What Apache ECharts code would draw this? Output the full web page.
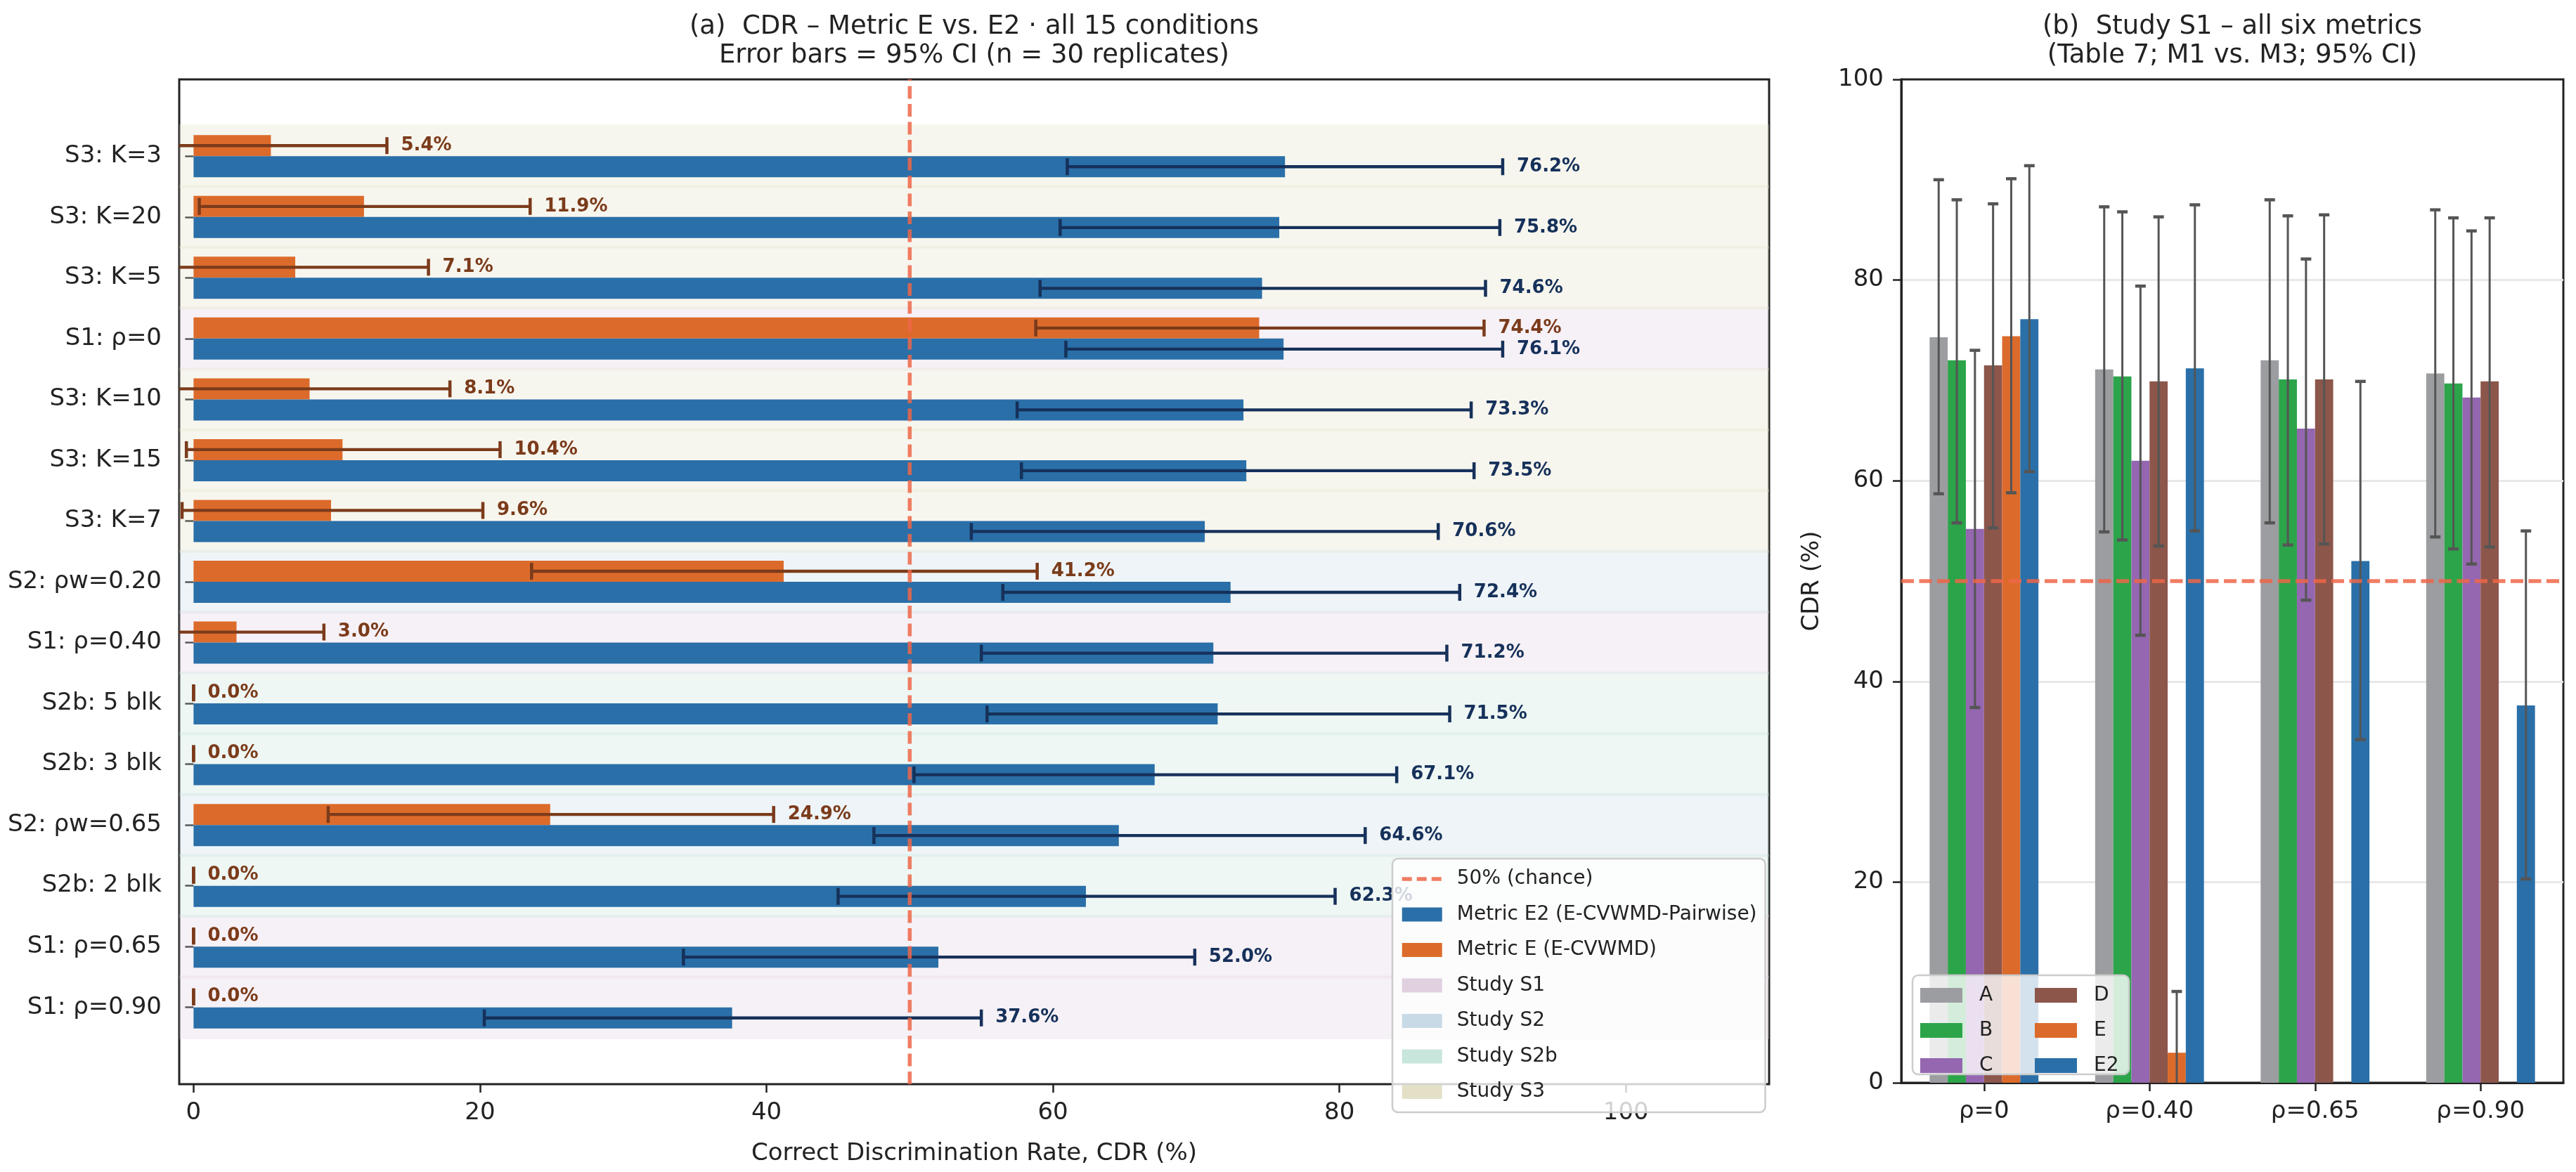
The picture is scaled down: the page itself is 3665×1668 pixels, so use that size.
<!DOCTYPE html>
<html>
<head>
<meta charset="utf-8">
<script src="https://cdn.jsdelivr.net/npm/echarts@6/dist/echarts.min.js"></script>
<style>
  html, body { margin: 0; padding: 0; background: #fff; }
  #chart { width: 3665px; height: 1668px; }
</style>
</head>
<body>
<div id="chart"></div>
<script>
// ---- panel (a) data: top to bottom ----
const conditions = ['S3: K=3', 'S3: K=20', 'S3: K=5', 'S1: ρ=0', 'S3: K=10', 'S3: K=15', 'S3: K=7',
  'S2: ρw=0.20', 'S1: ρ=0.40', 'S2b: 5 blk', 'S2b: 3 blk', 'S2: ρw=0.65', 'S2b: 2 blk', 'S1: ρ=0.65', 'S1: ρ=0.90'];
const conditionStudy = ['S3', 'S3', 'S3', 'S1', 'S3', 'S3', 'S3', 'S2', 'S1', 'S2b', 'S2b', 'S2', 'S2b', 'S1', 'S1'];
const metricE = [5.4, 11.9, 7.1, 74.4, 8.1, 10.4, 9.6, 41.2, 3.0, 0, 0, 24.9, 0, 0, 0];
const metricELo = [-2.7, 0.4, -2.2, 58.8, -1.7, -0.5, -0.8, 23.6, -3.1, 0, 0, 9.4, 0, 0, 0];
const metricEHi = [13.5, 23.5, 16.4, 90.1, 17.9, 21.4, 20.2, 58.9, 9.1, 0, 0, 40.5, 0, 0, 0];
const metricE2 = [76.2, 75.8, 74.6, 76.1, 73.3, 73.5, 70.6, 72.4, 71.2, 71.5, 67.1, 64.6, 62.3, 52.0, 37.6];
const metricE2Lo = [61.0, 60.5, 59.1, 60.9, 57.5, 57.8, 54.3, 56.5, 55.0, 55.4, 50.3, 47.5, 45.0, 34.2, 20.3];
const metricE2Hi = [91.4, 91.2, 90.2, 91.4, 89.2, 89.4, 86.9, 88.4, 87.5, 87.7, 84.0, 81.8, 79.7, 69.9, 55.0];
const studies = ['S1', 'S2', 'S2b', 'S3'];
const xTicks = [0, 20, 40, 60, 80, 100];
const chance = 50;

// ---- panel (b) data ----
const rhoLabels = ['ρ=0', 'ρ=0.40', 'ρ=0.65', 'ρ=0.90'];
const metricNames = ['A', 'B', 'C', 'D', 'E', 'E2'];
const s1A = [74.3, 71.1, 72.0, 70.7];
const s1ALo = [58.7, 54.9, 55.8, 54.4];
const s1AHi = [90.0, 87.3, 88.0, 87.0];
const s1B = [72.0, 70.4, 70.1, 69.7];
const s1BLo = [55.8, 54.1, 53.6, 53.2];
const s1BHi = [88.0, 86.8, 86.4, 86.2];
const s1C = [55.2, 62.0, 65.2, 68.3];
const s1CLo = [37.4, 44.6, 48.1, 51.7];
const s1CHi = [73.0, 79.4, 82.1, 84.9];
const s1D = [71.5, 69.9, 70.1, 69.9];
const s1DLo = [55.3, 53.5, 53.7, 53.4];
const s1DHi = [87.6, 86.3, 86.5, 86.2];
const s1E = [74.4, 3.0, 0, 0];
const s1ELo = [58.8, -3.1, null, null];
const s1EHi = [90.1, 9.1, null, null];
const s1E2 = [76.1, 71.2, 52.0, 37.6];
const s1E2Lo = [60.9, 55.0, 34.2, 20.3];
const s1E2Hi = [91.4, 87.5, 69.9, 55.0];

// ---- styles ----
const FONT = '"DejaVu Sans", sans-serif';
const INK = '#222222';
const ORANGE = '#dc6b2b';
const BLUE = '#2a6fa8';
const E_DARK = '#7b3b1b';
const E2_DARK = '#16315a';
const CHANCE_RED = '#ee6648';
const studyColors = ['#e0d0e0', '#c8dae6', '#c8e6dc', '#e4e0c8'];
const metricColors = ['#9c9da1', '#2ca44a', '#9467b0', '#8c564b', ORANGE, BLUE];
const BAR_H = 30;
const S1_BAR_W = 25.8;

const s1Vals = [s1A, s1B, s1C, s1D, s1E, s1E2];
const s1Lo = [s1ALo, s1BLo, s1CLo, s1DLo, s1ELo, s1E2Lo];
const s1Hi = [s1AHi, s1BHi, s1CHi, s1DHi, s1EHi, s1E2Hi];

const chart = echarts.init(document.getElementById('chart'));

function renderBand(params, api) {
  const cs = params.coordSys;
  const c = api.coord([0, api.value(1)]);
  const h = api.size([0, 1])[1] + 4;
  return {
    type: 'rect',
    shape: { x: cs.x, y: c[1] - h / 2, width: cs.width, height: h },
    style: { fill: api.visual('color'), opacity: 0.3 }
  };
}

function makeErrRender(dy, color) {
  return function (params, api) {
    const cs = params.coordSys;
    const lo = api.value(0), idx = api.value(1), hi = api.value(2), val = api.value(3);
    const pHi = api.coord([hi, idx]);
    const y = pHi[1] + dy;
    const x2 = pHi[0];
    let x1 = api.coord([lo, idx])[0];
    const clipped = x1 < cs.x;
    if (clipped) x1 = cs.x;
    const cap = 12;
    const kids = [
      { type: 'line', shape: { x1: x1, y1: y, x2: x2, y2: y }, style: { stroke: color, lineWidth: 4.3 } },
      { type: 'line', shape: { x1: x2, y1: y - cap, x2: x2, y2: y + cap }, style: { stroke: color, lineWidth: 4.5 } },
      {
        type: 'text',
        style: { text: val.toFixed(1) + '%', x: x2 + 20, y: y, verticalAlign: 'middle', fill: color, font: 'bold 26px ' + FONT }
      }
    ];
    if (!clipped) {
      kids.push({ type: 'line', shape: { x1: x1, y1: y - cap, x2: x1, y2: y + cap }, style: { stroke: color, lineWidth: 4.5 } });
    }
    return { type: 'group', children: kids };
  };
}

function renderS1Err(params, api) {
  const cs = params.coordSys;
  const cat = api.value(0), k = api.value(1), lo = api.value(2), hi = api.value(3);
  const x = api.coord([cat, 0])[0] + (k - (metricNames.length - 1) / 2) * S1_BAR_W;
  const y2 = api.coord([cat, hi])[1];
  let y1 = api.coord([cat, lo])[1];
  const bottom = cs.y + cs.height;
  const clipped = y1 > bottom;
  if (clipped) y1 = bottom;
  const cw = 7.5;
  const st = { stroke: '#555555', lineWidth: 4.5 };
  const kids = [
    { type: 'line', shape: { x1: x, y1: y1, x2: x, y2: y2 }, style: { stroke: '#555555', lineWidth: 3 } },
    { type: 'line', shape: { x1: x - cw, y1: y2, x2: x + cw, y2: y2 }, style: st }
  ];
  if (!clipped) kids.push({ type: 'line', shape: { x1: x - cw, y1: y1, x2: x + cw, y2: y1 }, style: st });
  return { type: 'group', children: kids };
}

const bandSeries = studies.map((s, si) => ({
  type: 'custom',
  name: 'Study ' + s,
  xAxisIndex: 1,
  yAxisIndex: 1,
  z: 1,
  itemStyle: { color: studyColors[si] },
  encode: { x: 0, y: 1 },
  data: conditions.map((c, i) => (conditionStudy[i] === s ? [0, i] : null)).filter(Boolean),
  renderItem: renderBand
}));

const s1ErrData = [];
metricNames.forEach((m, k) => {
  rhoLabels.forEach((r, c) => {
    if (s1Lo[k][c] !== null) s1ErrData.push([c, k, s1Lo[k][c], s1Hi[k][c]]);
  });
});

const labelStyle = { fontFamily: FONT, fontSize: 34, color: INK };
const tickStyle = { lineStyle: { color: INK, width: 2.5 } };
const chanceDash = { color: CHANCE_RED, width: 5.5, type: [18, 7.5], opacity: 0.85 };

const option = {
  animation: false,
  backgroundColor: '#fff',
  textStyle: { fontFamily: FONT },
  grid: [
    { left: 255, right: 1148, top: 113, bottom: 125, show: true, borderColor: INK, borderWidth: 3 },
    { left: 255, right: 1148, top: 179, bottom: 191 },
    { left: 2705, right: 18, top: 113, bottom: 127, show: true, borderColor: INK, borderWidth: 3 }
  ],
  xAxis: [
    {
      gridIndex: 0, type: 'value', min: -1, max: 110,
      axisLine: { show: false },
      splitLine: { show: false },
      axisTick: { show: true, length: 12, customValues: xTicks, ...tickStyle },
      axisLabel: { ...labelStyle, margin: 24, customValues: xTicks },
      name: 'Correct Discrimination Rate, CDR (%)',
      nameLocation: 'middle', nameGap: 82,
      nameTextStyle: { fontFamily: FONT, fontSize: 34, color: INK }
    },
    { gridIndex: 1, type: 'value', min: -1, max: 110, show: false },
    {
      gridIndex: 2, type: 'category', data: rhoLabels,
      axisLine: { show: true, lineStyle: { color: INK, width: 3 } },
      axisTick: { show: true, alignWithLabel: true, length: 12, ...tickStyle },
      axisLabel: { ...labelStyle, margin: 24 }
    },
    { gridIndex: 2, type: 'value', min: 0, max: 1, show: false, position: 'top' }
  ],
  yAxis: [
    { gridIndex: 0, type: 'value', min: 0, max: 1, show: false },
    {
      gridIndex: 1, type: 'category', data: conditions, inverse: true,
      axisLine: { show: false },
      axisTick: { show: true, alignWithLabel: true, length: 12, ...tickStyle },
      axisLabel: { ...labelStyle, margin: 25 }
    },
    {
      gridIndex: 2, type: 'value', min: 0, max: 100, interval: 20,
      axisLine: { show: true, lineStyle: { color: INK, width: 3 } },
      axisTick: { show: true, length: 12, ...tickStyle },
      axisLabel: { ...labelStyle, margin: 25 },
      splitLine: { show: true, showMinLine: false, showMaxLine: false, lineStyle: { color: '#e8e8e8', width: 3 } },
      name: 'CDR (%)', nameLocation: 'middle', nameGap: 110, nameRotate: 90,
      nameTextStyle: { fontFamily: FONT, fontSize: 34, color: INK }
    }
  ],
  legend: [
    {
      left: 1981, top: 1222, orient: 'vertical', z: 6,
      padding: [15, 12, 15, 11], itemWidth: 57, itemHeight: 20, itemGap: 22.5,
      backgroundColor: 'rgba(255,255,255,0.8)', borderColor: '#cccccc', borderWidth: 2.5, borderRadius: 8,
      textStyle: { fontFamily: FONT, fontSize: 28, color: INK, padding: [0, 0, 0, 16] },
      data: [
        { name: '50% (chance)', itemStyle: { opacity: 0 }, lineStyle: { width: 5.5, type: [14, 7] } },
        { name: 'Metric E2 (E-CVWMD-Pairwise)', icon: 'rect' },
        { name: 'Metric E (E-CVWMD)', icon: 'rect' },
        ...studies.map((s) => ({ name: 'Study ' + s, icon: 'rect' }))
      ]
    },
    {
      left: 2732, top: 1402.5, orient: 'vertical', z: 6, padding: 0,
      itemWidth: 60, itemHeight: 21, itemGap: 22, icon: 'rect',
      textStyle: { fontFamily: FONT, fontSize: 28, color: INK, padding: [0, 0, 0, 19] },
      data: metricNames.slice(0, 3)
    },
    {
      left: 2895, top: 1402.5, orient: 'vertical', z: 6, padding: 0,
      itemWidth: 60, itemHeight: 21, itemGap: 22, icon: 'rect',
      textStyle: { fontFamily: FONT, fontSize: 28, color: INK, padding: [0, 0, 0, 19] },
      data: metricNames.slice(3)
    }
  ],
  graphic: [
    {
      type: 'text', z: 10,
      style: { text: '(a)  CDR – Metric E vs. E2 · all 15 conditions', x: 1386, y: 38, align: 'center', verticalAlign: 'middle', fill: INK, font: '37px ' + FONT }
    },
    {
      type: 'text', z: 10,
      style: { text: 'Error bars = 95% CI (n = 30 replicates)', x: 1386, y: 79, align: 'center', verticalAlign: 'middle', fill: INK, font: '37px ' + FONT }
    },
    {
      type: 'text', z: 10,
      style: { text: '(b)  Study S1 – all six metrics', x: 3176, y: 38, align: 'center', verticalAlign: 'middle', fill: INK, font: '37px ' + FONT }
    },
    {
      type: 'text', z: 10,
      style: { text: '(Table 7; M1 vs. M3; 95% CI)', x: 3176, y: 79, align: 'center', verticalAlign: 'middle', fill: INK, font: '37px ' + FONT }
    },
    {
      type: 'rect', z: 5,
      shape: { x: 2721, y: 1388, width: 308, height: 141, r: 8 },
      style: { fill: 'rgba(255,255,255,0.8)', stroke: '#cccccc', lineWidth: 2.5 }
    }
  ],
  series: [
    ...bandSeries,
    {
      type: 'bar', name: 'Metric E (E-CVWMD)', xAxisIndex: 1, yAxisIndex: 1, z: 2,
      data: metricE, barWidth: BAR_H, barGap: '0%', itemStyle: { color: ORANGE }
    },
    {
      type: 'bar', name: 'Metric E2 (E-CVWMD-Pairwise)', xAxisIndex: 1, yAxisIndex: 1, z: 2,
      data: metricE2, barWidth: BAR_H, barGap: '0%', itemStyle: { color: BLUE }
    },
    {
      type: 'custom', name: 'errE', xAxisIndex: 1, yAxisIndex: 1, z: 3,
      encode: { x: [0, 2], y: 1 },
      data: metricE.map((v, i) => [metricELo[i], i, metricEHi[i], v]),
      renderItem: makeErrRender(-BAR_H / 2, E_DARK)
    },
    {
      type: 'custom', name: 'errE2', xAxisIndex: 1, yAxisIndex: 1, z: 3,
      encode: { x: [0, 2], y: 1 },
      data: metricE2.map((v, i) => [metricE2Lo[i], i, metricE2Hi[i], v]),
      renderItem: makeErrRender(BAR_H / 2, E2_DARK)
    },
    {
      type: 'line', name: '50% (chance)', xAxisIndex: 0, yAxisIndex: 0, z: 5,
      data: [[chance, 0], [chance, 1]], symbol: 'none',
      itemStyle: { color: CHANCE_RED },
      lineStyle: chanceDash
    },
    ...metricNames.map((m, k) => ({
      type: 'bar', name: m, xAxisIndex: 2, yAxisIndex: 2, z: 2,
      data: s1Vals[k], barWidth: S1_BAR_W, barGap: '0%', itemStyle: { color: metricColors[k] }
    })),
    {
      type: 'custom', name: 'errS1', xAxisIndex: 2, yAxisIndex: 2, z: 3,
      encode: { x: 0, y: [2, 3] },
      data: s1ErrData,
      renderItem: renderS1Err
    },
    {
      type: 'line', name: 'chanceB', xAxisIndex: 3, yAxisIndex: 2, z: 4,
      data: [[0, chance], [1, chance]], symbol: 'none',
      lineStyle: chanceDash
    }
  ]
};

chart.setOption(option);
</script>
</body>
</html>
